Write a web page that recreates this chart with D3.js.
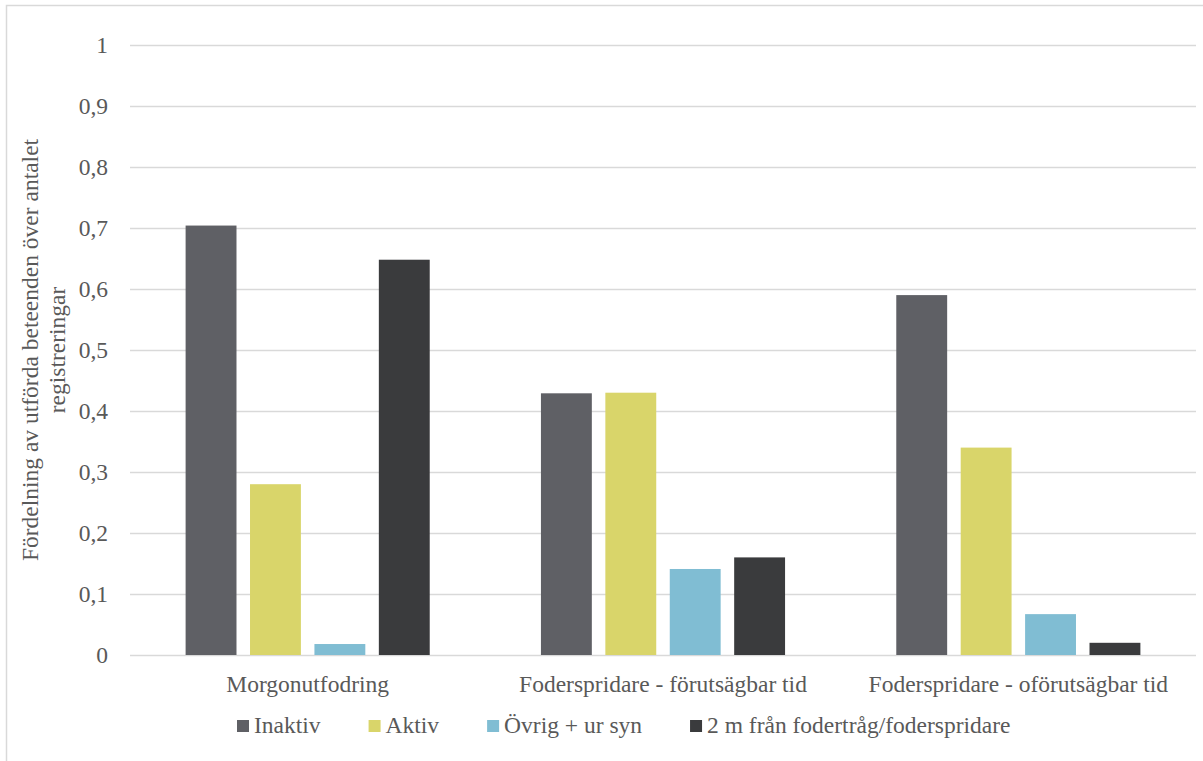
<!DOCTYPE html>
<html>
<head>
<meta charset="utf-8">
<script src="https://cdn.jsdelivr.net/npm/d3@7"></script>
<style>
  html, body { margin: 0; padding: 0; background: #fff; }
  svg { display: block; }
  svg text.lbl { font-family: "Times New Roman", Tinos, "Liberation Serif", serif; font-size: 23.5px; fill: #595959; }
</style>
</head>
<body>
<svg width="1203" height="761" id="figure"></svg>
<script>
const categories = ["Morgonutfodring", "Foderspridare - förutsägbar tid", "Foderspridare - oförutsägbar tid"];
const seriesNames = ["Inaktiv", "Aktiv", "Övrig + ur syn", "2 m från fodertråg/foderspridare"];
const seriesColors = ["#5f6065", "#d9d56a", "#80bdd3", "#3a3b3d"];
const inaktiv = [0.704, 0.429, 0.59];
const aktiv = [0.28, 0.43, 0.34];
const ovrig = [0.018, 0.141, 0.067];
const tvaMeter = [0.648, 0.16, 0.02];
const yTicks = [0, 0.1, 0.2, 0.3, 0.4, 0.5, 0.6, 0.7, 0.8, 0.9, 1];
const yTitleLines = ["Fördelning av utförda beteenden över antalet", "registreringar"];

const seriesValues = [inaktiv, aktiv, ovrig, tvaMeter];

const svg = d3.select("#figure");
const plot = { left: 130, right: 1196, top: 45, bottom: 655 };

// chart frame
svg.append("rect")
  .attr("x", 6.5).attr("y", 5.5)
  .attr("width", 1210).attr("height", 780)
  .attr("fill", "none").attr("stroke", "#d9d9d9").attr("stroke-width", 1.5);

const y = d3.scaleLinear().domain([0, 1]).range([plot.bottom, plot.top]);
const x0 = d3.scaleBand().domain(categories).range([plot.left, plot.right]).padding(0);
const groupWidth = x0.bandwidth() * 0.687;
const x1 = d3.scaleBand().domain(seriesNames).range([0, groupWidth]).paddingInner(0.21).paddingOuter(0);

// gridlines + y labels
const yAxis = d3.axisLeft(y).tickValues(yTicks)
  .tickFormat(d => String(d).replace(".", ","))
  .tickSize(-(plot.right - plot.left)).tickPadding(22);
const gy = svg.append("g").attr("transform", `translate(${plot.left},0)`).call(yAxis);
gy.attr("font-family", null).attr("font-size", null);
gy.select(".domain").remove();
gy.selectAll(".tick line").attr("stroke", "#d9d9d9").attr("stroke-width", 1.5);
gy.selectAll(".tick text").attr("fill", null).classed("lbl", true);

// bars
const groups = svg.append("g").selectAll("g")
  .data(categories).join("g")
  .attr("transform", c => `translate(${x0(c) + (x0.bandwidth() - groupWidth) / 2},0)`);

groups.selectAll("rect")
  .data((c, ci) => seriesNames.map((s, si) => ({ s, si, v: seriesValues[si][ci] })))
  .join("rect")
  .attr("x", d => x1(d.s))
  .attr("width", x1.bandwidth())
  .attr("y", d => y(d.v))
  .attr("height", d => y(0) - y(d.v))
  .attr("fill", d => seriesColors[d.si]);

// category labels
const xAxis = d3.axisBottom(x0).tickSize(0).tickPadding(20);
const gx = svg.append("g").attr("transform", `translate(0,${plot.bottom})`).call(xAxis);
gx.attr("font-family", null).attr("font-size", null);
gx.select(".domain").remove();
gx.selectAll(".tick text").attr("fill", null).classed("lbl", true);

// y-axis title
const title = svg.append("text")
  .attr("class", "lbl")
  .attr("transform", "translate(38,350) rotate(-90)")
  .attr("text-anchor", "middle");
yTitleLines.forEach((line, i) => {
  title.append("tspan").attr("x", 0).attr("dy", i === 0 ? 0 : 27).text(line);
});

// legend
const legend = svg.append("g").attr("transform", "translate(237,733)");
let lx = 0;
seriesNames.forEach((name, i) => {
  const g = legend.append("g").attr("transform", `translate(${lx},0)`);
  g.append("rect").attr("x", 0).attr("y", -13).attr("width", 12).attr("height", 12)
    .attr("fill", seriesColors[i]);
  const t = g.append("text").attr("class", "lbl").attr("x", 17).attr("y", 0).text(name);
  lx += 17 + t.node().getComputedTextLength() + 48;
});
</script>
</body>
</html>
